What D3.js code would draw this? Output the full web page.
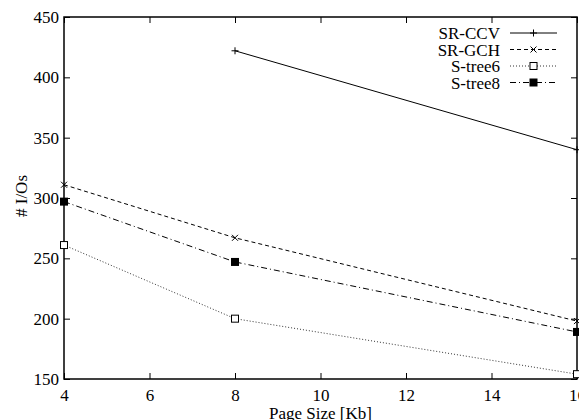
<!DOCTYPE html>
<html>
<head>
<meta charset="utf-8">
<script src="https://cdn.jsdelivr.net/npm/d3@7"></script>
<style>
  body { margin: 0; background: #fff; }
  svg { display: block; font-family: "Liberation Serif", "DejaVu Serif", serif; }
</style>
</head>
<body>
<svg width="579" height="420"></svg>
<script>
// page size (Kb) on x, number of I/Os on y
const pageSizes = [4, 8, 16];
const xTicks = [4, 6, 8, 10, 12, 14, 16];
const yTicks = [150, 200, 250, 300, 350, 400, 450];

const srCcv   = [null, 422, 340];
const srGch   = [311, 267, 198];
const sTree6  = [261, 200, 154];
const sTree8  = [297, 247, 189];

const seriesNames = ["SR-CCV", "SR-GCH", "S-tree6", "S-tree8"];

const svg = d3.select("svg");
const width = 579, height = 420;
const margin = { top: 17, right: 2, bottom: 41, left: 64 };
const innerWidth = width - margin.left - margin.right;
const innerHeight = height - margin.top - margin.bottom;

const g = svg.append("g").attr("transform", `translate(${margin.left},${margin.top})`);

const x = d3.scaleLinear().domain([4, 16]).range([0, innerWidth]);
const y = d3.scaleLinear().domain([150, 450]).range([innerHeight, 0]);

// eixos com ticks para dentro
const fs = "17px";
const xAx = g.append("g")
  .attr("transform", `translate(0,${innerHeight})`)
  .call(d3.axisBottom(x).tickValues(xTicks).tickSizeInner(-6).tickSizeOuter(0).tickPadding(10));
const yAx = g.append("g")
  .call(d3.axisLeft(y).tickValues(yTicks).tickSizeInner(-6).tickSizeOuter(0).tickPadding(5));
// espelho em cima / direita
g.append("g")
  .call(d3.axisTop(x).tickValues(xTicks).tickSizeInner(-6).tickSizeOuter(0).tickFormat(""));
g.append("g")
  .attr("transform", `translate(${innerWidth},0)`)
  .call(d3.axisRight(y).tickValues(yTicks).tickSizeInner(-6).tickSizeOuter(0).tickFormat(""));

svg.selectAll(".domain").remove();
svg.selectAll(".tick line").attr("stroke", "#000").attr("stroke-width", 1);
[xAx, yAx].forEach(a => a.selectAll("text")
  .style("font-family", "Liberation Serif")
  .style("font-size", fs)
  .attr("fill", "#000"));
yAx.selectAll("text").attr("x", -5);

g.append("rect")
  .attr("x", 0).attr("y", 0)
  .attr("width", innerWidth).attr("height", innerHeight)
  .attr("fill", "none").attr("stroke", "#000").attr("stroke-width", 1.5);

// títulos dos eixos
svg.append("text")
  .attr("x", margin.left + x(10))
  .attr("y", 419)
  .attr("text-anchor", "middle")
  .style("font-size", fs)
  .text("Page Size [Kb]");

svg.append("text")
  .attr("transform", `translate(27,196) rotate(-90)`)
  .attr("text-anchor", "middle")
  .style("font-size", fs)
  .text("# I/Os");

// séries
const series = [
  { name: seriesNames[0], values: srCcv,  dash: null,       marker: "plus",  color: "#000" },
  { name: seriesNames[1], values: srGch,  dash: "4,3",      marker: "cross", color: "#000" },
  { name: seriesNames[2], values: sTree6, dash: "1,2",      marker: "open",  color: "#333" },
  { name: seriesNames[3], values: sTree8, dash: "6,3,1,3",  marker: "fill",  color: "#000" }
];

function drawMarker(sel, type, cx, cy) {
  const s = 3.5;
  if (type === "plus") {
    sel.append("path").attr("d", `M${cx - s},${cy}H${cx + s}M${cx},${cy - s}V${cy + s}`)
      .attr("stroke", "#000").attr("stroke-width", 1);
  } else if (type === "cross") {
    sel.append("path").attr("d", `M${cx - 3},${cy - 3}L${cx + 3},${cy + 3}M${cx - 3},${cy + 3}L${cx + 3},${cy - 3}`)
      .attr("stroke", "#000").attr("stroke-width", 1);
  } else if (type === "open") {
    sel.append("rect").attr("x", cx - 3.5).attr("y", cy - 3.5).attr("width", 7).attr("height", 7)
      .attr("fill", "#fff").attr("stroke", "#000").attr("stroke-width", 1);
  } else {
    sel.append("rect").attr("x", cx - 4).attr("y", cy - 4).attr("width", 8).attr("height", 8)
      .attr("fill", "#000");
  }
}

const line = d3.line()
  .defined(d => d.v !== null)
  .x(d => x(d.p))
  .y(d => y(d.v));

series.forEach(s => {
  const data = pageSizes.map((p, i) => ({ p, v: s.values[i] }));
  g.append("path")
    .datum(data)
    .attr("fill", "none")
    .attr("stroke", s.color)
    .attr("stroke-width", 1)
    .attr("stroke-dasharray", s.dash)
    .attr("d", line);
  data.filter(d => d.v !== null).forEach(d => drawMarker(g, s.marker, x(d.p), y(d.v)));
});

// legenda
const leg = svg.append("g").attr("transform", "translate(500,33)");
series.forEach((s, i) => {
  const row = leg.append("g").attr("transform", `translate(0,${i * 16.5})`);
  row.append("text")
    .attr("x", 0).attr("y", 6)
    .attr("text-anchor", "end")
    .style("font-size", fs)
    .text(s.name);
  row.append("line")
    .attr("x1", 10).attr("x2", 57).attr("y1", 0).attr("y2", 0)
    .attr("stroke", s.color).attr("stroke-width", 1)
    .attr("stroke-dasharray", s.dash);
  drawMarker(row, s.marker, 33.5, 0);
});
</script>
</body>
</html>
